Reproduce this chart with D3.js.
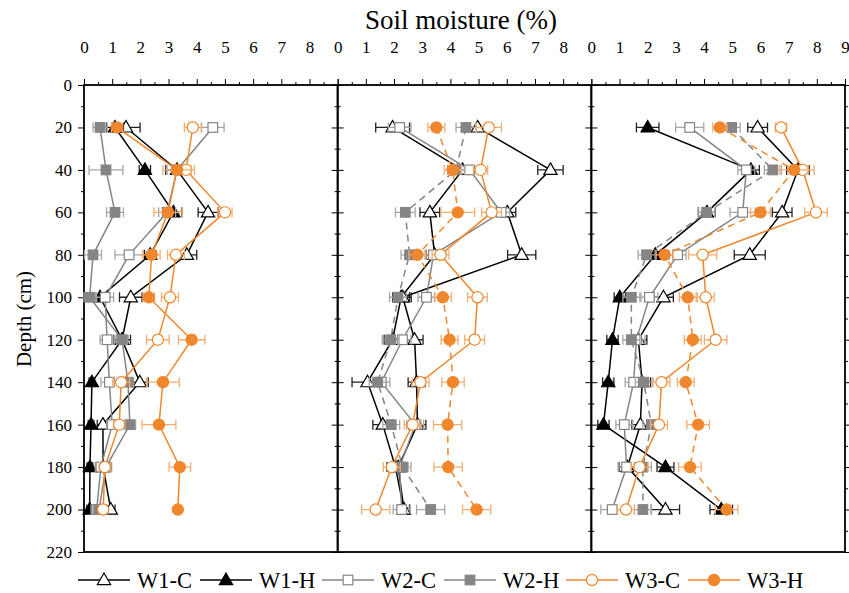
<!DOCTYPE html>
<meta charset="utf-8">
<style>
    body { margin: 0; background: #fff; }
    text { font-family: "Liberation Serif", "Times New Roman", serif; }
</style>
<svg width="849" height="593"></svg>

<script src="https://d3js.org/d3.v7.min.js"></script>
<script>
    // depths (cm) and series names
    var depths = [20, 40, 60, 80, 100, 120, 140, 160, 180, 200];
    var seriesNames = ["W1-C", "W1-H", "W2-C", "W2-H", "W3-C", "W3-H"];
    var xTicks = [0, 1, 2, 3, 4, 5, 6, 7, 8, 9];
    var yTicks = [0, 20, 40, 60, 80, 100, 120, 140, 160, 180, 200, 220];

    // soil moisture means, one row per series (order of seriesNames)
    var p1Mean = [
        [1.49, 3.3, 4.4, 3.65, 1.66, 1.35, 1.98, 0.67, 0.68, 0.95],
        [1.1, 2.16, 3.17, 2.35, 0.57, 1.35, 0.28, 0.25, 0.21, 0.2],
        [4.57, 3.3, 2.95, 1.6, 0.75, 0.82, 0.9, 1.0, 0.6, 0.45],
        [0.57, 0.78, 1.1, 0.32, 0.2, 1.35, 1.56, 1.63, 0.78, 0.53],
        [3.86, 3.62, 5.0, 3.26, 3.05, 2.62, 1.32, 1.25, 0.74, 0.68],
        [1.17, 3.3, 2.98, 2.4, 2.3, 3.82, 2.8, 2.66, 3.4, 3.33]
    ];
    var p2Mean = [
        [1.95, 4.43, 3.27, 3.44, 2.25, 1.95, 1.06, 1.6, 2.05, 2.35],
        [4.97, 7.55, 6.02, 6.53, 2.31, 2.73, 2.8, 2.83, 2.15, 2.35],
        [2.2, 4.68, 5.8, 3.4, 3.15, 2.3, 1.55, 2.75, 2.2, 2.27],
        [4.55, 4.2, 2.4, 2.55, 2.14, 1.88, 1.42, 1.9, 2.3, 3.3],
        [5.36, 5.07, 5.46, 3.65, 4.96, 4.86, 2.94, 2.66, 1.92, 1.35],
        [3.5, 4.08, 4.26, 2.83, 3.73, 3.97, 4.09, 3.9, 3.92, 4.93]
    ];
    var p3Mean = [
        [5.9, 7.33, 6.77, 5.62, 2.56, 1.67, 1.8, 1.74, 1.28, 2.63],
        [2.0, 5.66, 4.1, 2.27, 1.01, 0.75, 0.6, 0.43, 2.63, 4.61],
        [3.49, 5.5, 5.37, 3.06, 2.06, 1.6, 1.5, 1.17, 1.25, 0.74],
        [4.98, 6.44, 4.09, 1.96, 1.42, 1.42, 1.86, 2.13, 1.83, 1.83],
        [6.73, 7.5, 7.97, 3.95, 4.06, 4.41, 2.49, 2.4, 1.71, 1.23],
        [4.56, 7.19, 6.0, 2.6, 3.42, 3.6, 3.35, 3.79, 3.5, 4.8]
    ];

    // standard errors
    var p1Err = [
        [0.5, 0.4, 0.35, 0.35, 0.4, 0.3, 0.3, 0.2, 0.2, 0.15],
        [0.3, 0.2, 0.3, 0.2, 0.2, 0.2, 0.1, 0.1, 0.1, 0.1],
        [0.4, 0.35, 0.3, 0.5, 0.3, 0.25, 0.3, 0.2, 0.2, 0.2],
        [0.25, 0.6, 0.3, 0.3, 0.2, 0.2, 0.2, 0.2, 0.2, 0.2],
        [0.3, 0.3, 0.25, 0.3, 0.3, 0.4, 0.3, 0.2, 0.2, 0.15],
        [0.2, 0.5, 0.5, 0.3, 0.2, 0.47, 0.58, 0.6, 0.38, 0]
    ];
    var p2Err = [
        [0.6, 0.4, 0.35, 0.3, 0.3, 0.3, 0.55, 0.35, 0.3, 0.2],
        [0.35, 0.45, 0.3, 0.5, 0.3, 0.3, 0.3, 0.3, 0.3, 0.2],
        [0.4, 0.3, 0.3, 0.3, 0.3, 0.3, 0.3, 0.3, 0.3, 0.3],
        [0.35, 0.3, 0.35, 0.3, 0.3, 0.3, 0.3, 0.3, 0.3, 0.5],
        [0.45, 0.25, 0.35, 0.3, 0.35, 0.35, 0.3, 0.3, 0.3, 0.5],
        [0.3, 0.3, 0.6, 0.3, 0.3, 0.3, 0.4, 0.5, 0.5, 0.5]
    ];
    var p3Err = [
        [0.35, 0.4, 0.35, 0.55, 0.35, 0.3, 0.3, 0.3, 0.3, 0.5],
        [0.4, 0.3, 0.3, 0.3, 0.2, 0.2, 0.2, 0.2, 0.3, 0.4],
        [0.5, 0.3, 0.45, 0.3, 0.3, 0.3, 0.3, 0.3, 0.3, 0.4],
        [0.3, 0.3, 0.3, 0.3, 0.3, 0.3, 0.3, 0.3, 0.3, 0.3],
        [0.2, 0.4, 0.4, 0.5, 0.3, 0.4, 0.3, 0.3, 0.3, 0.3],
        [0.25, 0.5, 0.35, 0.3, 0.3, 0.3, 0.3, 0.4, 0.4, 0.4]
    ];

    var panels = [
        {mean: p1Mean, err: p1Err, dashH: false, openW1H: false},
        {mean: p2Mean, err: p2Err, dashH: true, openW1H: true},
        {mean: p3Mean, err: p3Err, dashH: true, openW1H: false}
    ];

    var BLACK = "#000",
        GRAY = "#858585",
        ORANGE = "#F0872C",
        colors = [BLACK, BLACK, GRAY, GRAY, ORANGE, ORANGE],
        errColors = ["#222", "#222", "#a6a6a6", "#a6a6a6", "#f4ad73", "#f4ad73"],
        shapes = ["tri", "tri", "sq", "sq", "circ", "circ"],
        filled = [false, true, false, true, false, true];

    var svg = d3.select("svg"),
        LEFT = 84, RIGHT = 845, TOP = 85, BOTTOM = 552,
        PW = (RIGHT - LEFT) / 3;

    var y = d3.scaleLinear().domain([0, 220]).range([TOP, BOTTOM]);

    function drawMarker(g, shape, cx, cy, color, fill) {
        if (shape === "tri") {
            var s = 7;
            g.append("path")
                .attr("d", "M" + cx + "," + (cy - s) + "L" + (cx + s * 0.95) + "," + (cy + s * 0.65) +
                    "L" + (cx - s * 0.95) + "," + (cy + s * 0.65) + "Z")
                .attr("fill", fill ? color : "#fff")
                .attr("stroke", color).attr("stroke-width", 1.2);
        } else if (shape === "sq") {
            g.append("rect")
                .attr("x", cx - 4.8).attr("y", cy - 4.8)
                .attr("width", 9.6).attr("height", 9.6)
                .attr("fill", fill ? color : "#fff")
                .attr("stroke", color).attr("stroke-width", 1.2);
        } else {
            g.append("circle")
                .attr("cx", cx).attr("cy", cy).attr("r", 5.6)
                .attr("fill", fill ? color : "#fff")
                .attr("stroke", color).attr("stroke-width", 1.2);
        }
    }

    panels.forEach(function (p, pi) {
        var x0 = LEFT + pi * PW,
            x = d3.scaleLinear().domain([0, 9]).range([x0, x0 + PW]),
            g = svg.append("g");

        // top axis
        g.append("g")
            .attr("transform", "translate(0," + TOP + ")")
            .call(d3.axisTop(x).tickValues(d3.range(0.5, 9, 1)).tickSize(3).tickFormat(""))
            .call(function (a) { a.select(".domain").remove(); });
        var top = g.append("g")
            .attr("transform", "translate(0," + TOP + ")")
            .call(d3.axisTop(x).tickValues(xTicks).tickSize(6).tickPadding(32).tickFormat(d3.format("d")));
        top.select(".domain").remove();
        top.selectAll("text").attr("font-size", 17).attr("font-family", "Liberation Serif")
            .attr("dy", "0.35em")
            .style("display", function (d) { return (d === 9 && pi < 2) ? "none" : null; });

        // left and right ticks
        [["L", x0], ["R", x0 + PW]].forEach(function (side) {
            var ax = side[0] === "L" ? d3.axisLeft(y) : d3.axisRight(y);
            g.append("g")
                .attr("transform", "translate(" + side[1] + ",0)")
                .call(ax.tickValues(d3.range(10, 220, 20)).tickSize(3).tickFormat(""))
                .call(function (a) { a.select(".domain").remove(); });
            var ax2 = side[0] === "L" ? d3.axisLeft(y) : d3.axisRight(y);
            var t = g.append("g")
                .attr("transform", "translate(" + side[1] + ",0)")
                .call(ax2.tickValues(yTicks).tickSize(6).tickPadding(6)
                    .tickFormat(side[0] === "L" && pi === 0 ? d3.format("d") : ""));
            t.select(".domain").remove();
            t.selectAll("text").attr("font-size", 17).attr("font-family", "Liberation Serif");
        });

        // frame
        g.append("rect")
            .attr("x", x0).attr("y", TOP)
            .attr("width", PW).attr("height", BOTTOM - TOP)
            .attr("fill", "none").attr("stroke", "#000").attr("stroke-width", 1.8);

        var line = d3.line()
            .x(function (d) { return x(d.v); })
            .y(function (d) { return y(d.d); });

        p.mean.forEach(function (vals, si) {
            var pts = vals.map(function (v, i) { return {d: depths[i], v: v, e: p.err[si][i]}; }),
                sg = g.append("g"),
                dashed = p.dashH && (si === 3 || si === 5),
                fill = filled[si] && !(si === 1 && p.openW1H);

            sg.append("path")
                .datum(pts)
                .attr("d", line)
                .attr("fill", "none")
                .attr("stroke", colors[si])
                .attr("stroke-width", 1.5)
                .attr("stroke-dasharray", dashed ? "7,5" : null);

            pts.forEach(function (pt) {
                if (pt.e > 0) {
                    var cy = y(pt.d), xa = x(pt.v - pt.e), xb = x(pt.v + pt.e);
                    sg.append("path")
                        .attr("d", "M" + xa + "," + cy + "H" + xb +
                            "M" + xa + "," + (cy - 5) + "V" + (cy + 5) +
                            "M" + xb + "," + (cy - 5) + "V" + (cy + 5))
                        .attr("fill", "none")
                        .attr("stroke", errColors[si])
                        .attr("stroke-width", 1.3);
                }
            });
            pts.forEach(function (pt) {
                drawMarker(sg, shapes[si], x(pt.v), y(pt.d), colors[si], fill);
            });
        });
    });

    // titles
    svg.append("text")
        .attr("x", 461).attr("y", 29)
        .attr("text-anchor", "middle")
        .attr("font-size", 27)
        .text("Soil moisture (%)");

    svg.append("text")
        .attr("transform", "translate(31," + 319 + ") rotate(-90)")
        .attr("text-anchor", "middle")
        .attr("font-size", 21)
        .text("Depth (cm)");

    // legend
    var legend = svg.append("g").attr("transform", "translate(78,580)");
    seriesNames.forEach(function (name, i) {
        var lg = legend.append("g").attr("transform", "translate(" + (i * 122) + ",0)");
        lg.append("line")
            .attr("x1", 0).attr("x2", 52).attr("y1", 0).attr("y2", 0)
            .attr("stroke", colors[i]).attr("stroke-width", 1.6);
        drawMarker(lg, shapes[i], 26, 0, colors[i], filled[i]);
        lg.append("text")
            .attr("x", 59).attr("y", 0).attr("dy", "0.35em")
            .attr("font-size", 22.5)
            .text(name);
    });
</script>
